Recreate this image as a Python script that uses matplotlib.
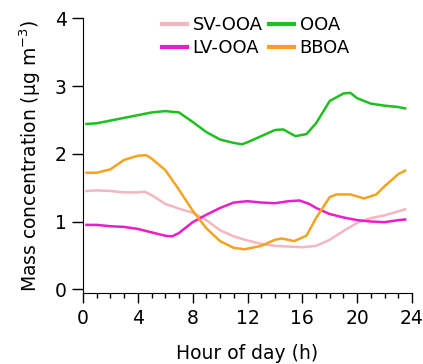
import matplotlib
matplotlib.use("Agg")
import matplotlib.pyplot as plt
from matplotlib.ticker import MultipleLocator

plt.rcParams['font.family'] = ['DejaVu Sans']

# diurnal profiles
hr_sv = [0.25, 1, 2, 3, 4, 4.5, 5, 6, 7, 8, 9, 10, 11, 12, 13, 14, 15, 16, 17, 18, 19, 20, 21, 22, 23, 23.5]
sv_ooa = [1.45, 1.46, 1.45, 1.43, 1.43, 1.44, 1.39, 1.26, 1.19, 1.13, 1.02, 0.87, 0.78, 0.72, 0.67, 0.64, 0.63, 0.62, 0.64, 0.73, 0.86, 0.98, 1.05, 1.09, 1.15, 1.18]

hr_lv = [0.25, 1, 2, 3, 4, 5, 6, 6.5, 7, 8, 9, 10, 11, 12, 13, 14, 15, 15.8, 16.5, 17, 18, 19, 20, 21, 22, 23, 23.5]
lv_ooa = [0.95, 0.95, 0.93, 0.92, 0.89, 0.84, 0.79, 0.78, 0.83, 0.99, 1.10, 1.20, 1.28, 1.30, 1.28, 1.27, 1.30, 1.31, 1.26, 1.20, 1.11, 1.06, 1.02, 1.00, 0.99, 1.02, 1.03]

hr_ooa = [0.25, 1, 2, 3, 4, 5, 6, 7, 8, 9, 10, 11, 11.6, 12, 13, 14, 14.6, 15.5, 16.3, 17, 18, 19, 19.5, 20, 21, 22, 23, 23.5]
ooa = [2.44, 2.45, 2.49, 2.53, 2.57, 2.61, 2.63, 2.61, 2.47, 2.32, 2.21, 2.16, 2.14, 2.17, 2.26, 2.35, 2.36, 2.26, 2.29, 2.45, 2.78, 2.89, 2.90, 2.82, 2.74, 2.71, 2.69, 2.67]

hr_bb = [0.25, 1, 2, 3, 4, 4.6, 5, 6, 7, 8, 9, 10, 11, 11.8, 13, 14, 14.5, 15.4, 16.3, 17, 18, 18.5, 19.5, 20.5, 21.4, 22, 23, 23.5]
bboa = [1.72, 1.72, 1.77, 1.91, 1.97, 1.98, 1.93, 1.76, 1.47, 1.16, 0.90, 0.71, 0.61, 0.59, 0.64, 0.73, 0.75, 0.71, 0.79, 1.05, 1.36, 1.40, 1.40, 1.34, 1.40, 1.52, 1.70, 1.75]

fig = plt.figure(figsize=(4.23, 3.64), dpi=100)
# axes box: left spine at x=83px, right end 412px, bottom spine 293px, top 18px
ax = fig.add_axes([83 / 423, (364 - 293.3) / 364, 329 / 423, 275 / 364])

ax.plot(hr_sv, sv_ooa, color='#f4b6bf', lw=1.8, label='SV-OOA')
ax.plot(hr_lv, lv_ooa, color='#ea1ec8', lw=1.8, label='LV-OOA')
ax.plot(hr_ooa, ooa, color='#1fbf1f', lw=1.8, label='OOA')
ax.plot(hr_bb, bboa, color='#f5a31f', lw=1.8, label='BBOA')

ax.set_xlim(0, 24)
ax.set_ylim(-0.06, 4)
ax.spines['top'].set_visible(False)
ax.spines['right'].set_visible(False)
ax.xaxis.set_major_locator(MultipleLocator(4))
ax.xaxis.set_minor_locator(MultipleLocator(1))
ax.yaxis.set_major_locator(MultipleLocator(1))
ax.tick_params(axis='y', which='major', direction='out', length=8, width=1, pad=3.8, labelsize=13.5)
ax.tick_params(axis='x', which='major', direction='out', length=7, width=1, pad=4.5, labelsize=13.5)
ax.tick_params(axis='x', which='minor', direction='out', length=3.5, width=1)

ax.set_xlabel('Hour of day (h)', fontsize=13.5)
ax.set_ylabel('Mass concentration (µg m$^{-3}$)', fontsize=13.5)
ax.xaxis.set_label_coords(0.5, -0.184)
ax.yaxis.set_label_coords(-0.123, 0.5)

leg = ax.legend(ncol=2, loc='upper left', bbox_to_anchor=(0.24, 1.007), frameon=False,
                fontsize=13, handlelength=1.4, handletextpad=0.3, columnspacing=0.35,
                labelspacing=0.25, borderaxespad=0, borderpad=0)
for line in leg.get_lines():
    line.set_linewidth(3)

fig.savefig('out.png', dpi=100)
